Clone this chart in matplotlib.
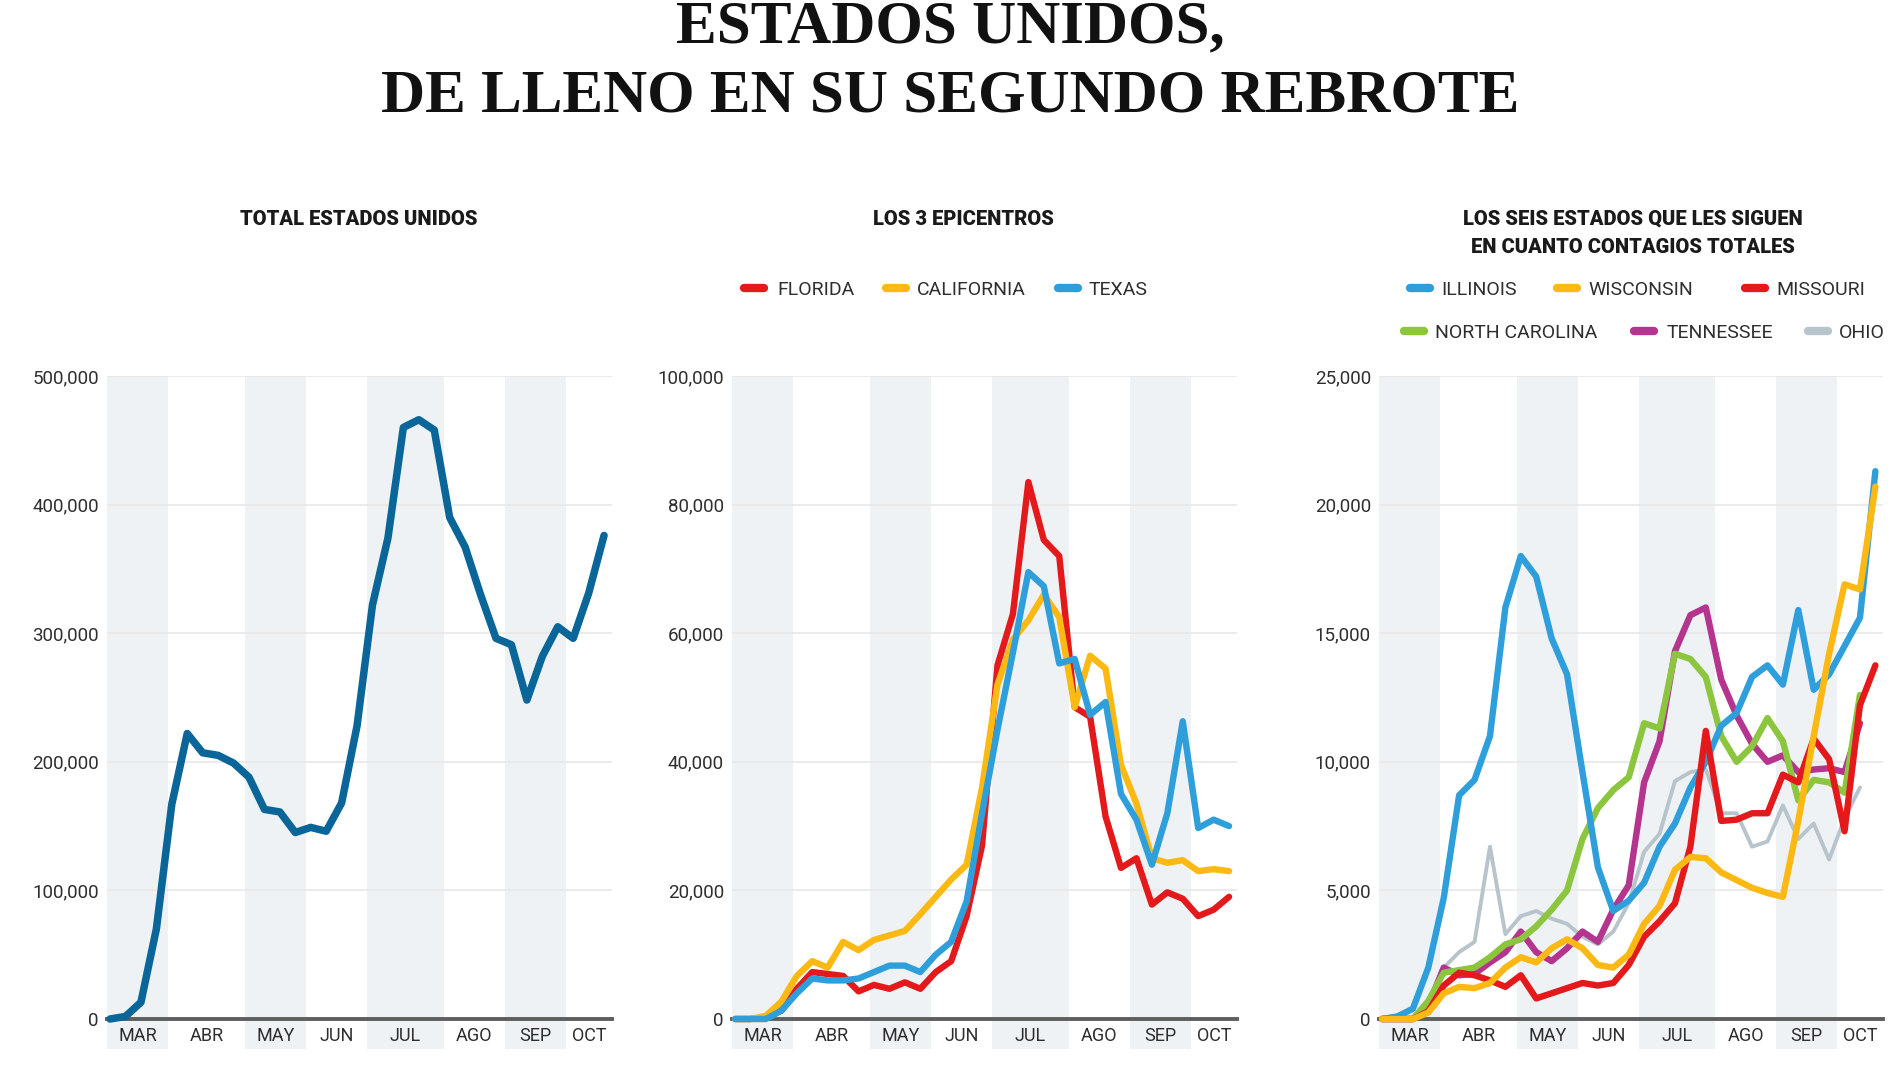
import numpy as np
import matplotlib
matplotlib.use('Agg')
import matplotlib.pyplot as plt
import matplotlib.transforms as mtransforms
from matplotlib.lines import Line2D
from matplotlib.patches import Rectangle
from matplotlib.ticker import FuncFormatter

# --- DATA (weekly new cases)
months = ['MAR', 'ABR', 'MAY', 'JUN', 'JUL', 'AGO', 'SEP', 'OCT']
weeks_per_month = [4, 5, 4, 4, 5, 4, 4, 3]

us_total = [0, 2000, 13000, 70000, 167000, 222000, 207000, 205000, 199000, 188000,
            163000, 161000, 145000, 149000, 146000, 168000, 228000, 322000, 374000,
            460000, 466000, 458000, 390000, 367000, 330000, 296000, 291000, 248000,
            282000, 305000, 296000, 331000, 376000]

florida = [0, 0, 300, 1300, 4700, 7300, 7000, 6700, 4300, 5300, 4700, 5700, 4700,
           7300, 9000, 16000, 27000, 55000, 63000, 83500, 74500, 72000, 48500, 47000,
           31500, 23500, 25000, 17800, 19700, 18700, 16000, 17000, 19000]
california = [0, 0, 500, 2700, 6700, 9000, 8000, 12000, 10700, 12300, 13000, 13700,
              16300, 19000, 21700, 24000, 36000, 52000, 59000, 62000, 66000, 62500,
              48500, 56500, 54500, 39500, 33500, 25000, 24300, 24700, 23000, 23300, 23000]
texas = [0, 0, 0, 1300, 4000, 6300, 6000, 6000, 6300, 7300, 8300, 8300, 7300, 10000,
         12000, 18300, 32000, 45000, 57000, 69500, 67300, 55300, 56000, 47300, 49300,
         35000, 31000, 24000, 32000, 46300, 29700, 31000, 30000]

illinois = [0, 100, 400, 2000, 4700, 8700, 9300, 11000, 16000, 18000, 17200, 14800,
            13400, 9600, 5900, 4200, 4600, 5300, 6700, 7600, 9000, 10000, 11400, 11900,
            13300, 13750, 13000, 15900, 12800, 13400, 14500, 15600, 21300]
wisconsin = [0, 0, 0, 250, 1000, 1250, 1200, 1400, 2000, 2400, 2200, 2750, 3100, 2750,
             2100, 2000, 2500, 3700, 4400, 5800, 6300, 6250, 5700, 5400, 5100, 4900,
             4750, 7700, 11000, 14200, 16900, 16700, 20700]
missouri = [0, 0, 0, 300, 1300, 1800, 1700, 1500, 1250, 1700, 800, 1000, 1200, 1400,
            1300, 1400, 2100, 3200, 3800, 4500, 6700, 11200, 7700, 7750, 8000, 8000,
            9500, 9200, 10900, 10100, 7300, 12200, 13750]
north_carolina = [0, 0, 0, 700, 1800, 1900, 2000, 2400, 2900, 3100, 3600, 4250, 5000,
                  7000, 8200, 8900, 9400, 11500, 11300, 14200, 14000, 13300, 11000,
                  10000, 10600, 11700, 10800, 8500, 9300, 9200, 8800, 12600]
tennessee = [0, 0, 0, 500, 2000, 1700, 1750, 2200, 2600, 3400, 2600, 2250, 2750, 3400,
             3000, 4250, 5200, 9200, 10800, 14300, 15700, 16000, 13200, 11800, 10700,
             10000, 10250, 9600, 9700, 9750, 9600, 11500]
ohio = [0, 0, 0, 600, 2000, 2600, 3000, 6700, 3300, 4000, 4200, 3900, 3700, 3200, 2900,
        3400, 4500, 6500, 7200, 9250, 9600, 9700, 8000, 8000, 6700, 6900, 8300, 7000,
        7600, 6200, 7800, 9000]

# --- STYLE
W, H = 1900, 1068
FONT = 'Roboto'
BAND = '#eef2f4'
GRID = '#e8e8e8'
TXT = '#2e2e2e'
AXIS = '#5e5e5e'

C_US = '#0a6699'
C_RED = '#e3191b'
C_YEL = '#fdb913'
C_BLUE = '#2e9fdb'
C_GREEN = '#8cc63f'
C_MAG = '#b5348e'
C_GRAY = '#b8c4cb'

fig = plt.figure(figsize=(W / 100, H / 100), dpi=100)


def fx(px):
    return px / W


def fy(py):
    return 1 - py / H


AX_TOP, AX_BOT = 376, 1019
N_WEEKS = sum(weeks_per_month)


def make_panel(left_px, right_px, ymax, ystep):
    ax = fig.add_axes([fx(left_px), fy(AX_BOT), (right_px - left_px) / W,
                       (AX_BOT - AX_TOP) / H])
    ax.set_xlim(0, N_WEEKS)
    ax.set_ylim(0, ymax)
    blend = mtransforms.blended_transform_factory(ax.transData, ax.transAxes)
    start = 0
    for k, (m, nw) in enumerate(zip(months, weeks_per_month)):
        if k % 2 == 0:
            ax.add_patch(Rectangle((start, -0.047), nw, 1.047, transform=blend,
                                   facecolor=BAND, edgecolor='none', zorder=0.2,
                                   clip_on=False))
        ax.text(start + nw / 2, -0.027, m, transform=blend, ha='center', va='center',
                fontsize=13, color=TXT, family=FONT)
        start += nw
    for s in ['top', 'right', 'left']:
        ax.spines[s].set_visible(False)
    ax.spines['bottom'].set_color(AXIS)
    ax.spines['bottom'].set_linewidth(2.8)
    ax.spines['bottom'].set_zorder(2)
    ax.set_xticks([])
    ax.set_yticks(np.arange(0, ymax + 1, ystep))
    ax.yaxis.set_major_formatter(FuncFormatter(lambda v, p: f'{v:,.0f}'))
    ax.tick_params(axis='y', length=0, pad=6, labelsize=13.5, labelcolor=TXT)
    for lab in ax.get_yticklabels():
        lab.set_family(FONT)
    ax.yaxis.grid(True, color=GRID, lw=1.2)
    ax.set_axisbelow(True)
    ax.patch.set_alpha(0)
    return ax


def week_x(n):
    return 0.18 + 1.01 * np.arange(n)


def draw(ax, values, color, lw=4.6, z=3):
    ax.plot(week_x(len(values)), values, color=color, lw=lw, zorder=z,
            solid_capstyle='round', solid_joinstyle='round', clip_on=False)


# --- PANEL 1
ax1 = make_panel(107.3, 611.7, 500000, 100000)
draw(ax1, us_total, C_US, lw=5.4)

# --- PANEL 2
ax2 = make_panel(732.3, 1236.7, 100000, 20000)
draw(ax2, florida, C_RED, z=3)
draw(ax2, california, C_YEL, z=4)
draw(ax2, texas, C_BLUE, z=5)

# --- PANEL 3
ax3 = make_panel(1379.3, 1883, 25000, 5000)
draw(ax3, ohio, C_GRAY, lw=2.8, z=3)
draw(ax3, tennessee, C_MAG, z=4)
draw(ax3, north_carolina, C_GREEN, z=5)
draw(ax3, illinois, C_BLUE, z=6)
draw(ax3, missouri, C_RED, z=7)
draw(ax3, wisconsin, C_YEL, z=8)

# --- TITLES
title_kw = dict(ha='center', va='baseline', family='Liberation Serif',
                fontweight='bold', fontsize=44, color='#111111')
fig.text(fx(950), fy(42), 'ESTADOS UNIDOS,', **title_kw)
fig.text(fx(950), fy(112), 'DE LLENO EN SU SEGUNDO REBROTE', **title_kw)

sub_kw = dict(ha='center', va='baseline', family=FONT, fontweight='black',
              fontsize=14.5, color='#1a1a1a')
fig.text(fx(359), fy(225), 'TOTAL ESTADOS UNIDOS', **sub_kw)
fig.text(fx(963), fy(225), 'LOS 3 EPICENTROS', **sub_kw)
fig.text(fx(1633), fy(225), 'LOS SEIS ESTADOS QUE LES SIGUEN', **sub_kw)
fig.text(fx(1633), fy(253), 'EN CUANTO CONTAGIOS TOTALES', **sub_kw)


# --- LEGENDS
def legend_item(x_sw, y, color, label, x_txt):
    fig.add_artist(Line2D([fx(x_sw + 4), fx(x_sw + 24)], [fy(y), fy(y)],
                          transform=fig.transFigure, color=color, lw=6,
                          solid_capstyle='round'))
    fig.text(fx(x_txt), fy(y + 7), label, ha='left', va='baseline', fontsize=14,
             color=TXT, family=FONT)


legend_item(740, 288, C_RED, 'FLORIDA', 777)
legend_item(882, 288, C_YEL, 'CALIFORNIA', 917)
legend_item(1054, 288, C_BLUE, 'TEXAS', 1089)

legend_item(1406, 288, C_BLUE, 'ILLINOIS', 1441)
legend_item(1553, 288, C_YEL, 'WISCONSIN', 1588)
legend_item(1741, 288, C_RED, 'MISSOURI', 1776)
legend_item(1400, 331, C_GREEN, 'NORTH CAROLINA', 1435)
legend_item(1630, 331, C_MAG, 'TENNESSEE', 1667)
legend_item(1804, 331, C_GRAY, 'OHIO', 1839)

fig.savefig('out.png', dpi=100)
